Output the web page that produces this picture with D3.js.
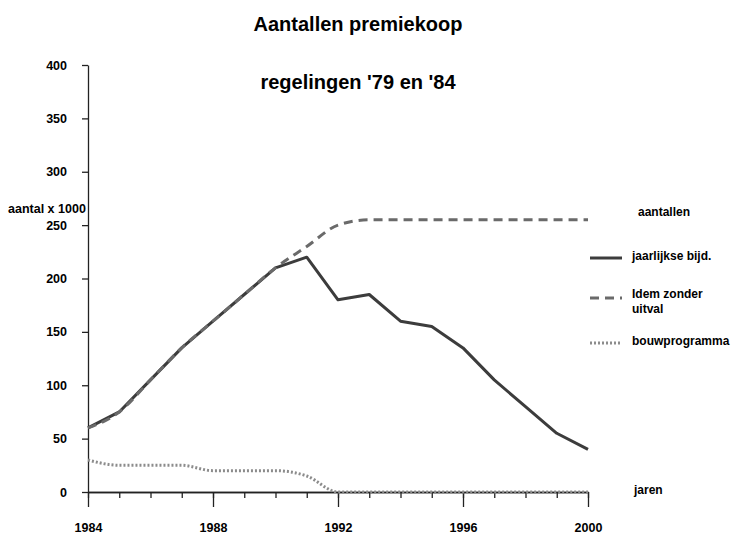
<!DOCTYPE html>
<html>
<head>
<meta charset="utf-8">
<script src="https://cdn.jsdelivr.net/npm/d3@7"></script>
<style>
    body { margin: 0; background: #fff; }
    text { font-family: "Liberation Sans", Arial, sans-serif; }
</style>
</head>
<body>
<div id="chart"></div>
<script>
// years and series (aantal x 1000)
var years = [1984, 1985, 1986, 1987, 1988, 1989, 1990, 1991, 1992, 1993, 1994, 1995, 1996, 1997, 1998, 1999, 2000];
var jaarlijks = [60, 75, 105, 135, 160, 185, 210, 220, 180, 185, 160, 155, 135, 105, 80, 55, 40];
var zonderUitval = [60, 75, 105, 135, 160, 185, 210, 230, 250, 255, 255, 255, 255, 255, 255, 255, 255];
var bouwprogramma = [30, 25, 25, 25, 20, 20, 20, 15, 0, 0, 0, 0, 0, 0, 0, 0, 0];
var yTicks = [0, 50, 100, 150, 200, 250, 300, 350, 400];
var xLabels = [1984, 1988, 1992, 1996, 2000];
var legendNames = ["jaarlijkse bijd.", ["Idem zonder", "uitval"], "bouwprogramma"];

var width = 735, height = 537;

var svg = d3.select("#chart")
    .append("svg")
    .attr("width", width)
    .attr("height", height);

var x = d3.scaleLinear().domain([1984, 2000]).range([88, 588]);
var y = d3.scaleLinear().domain([0, 400]).range([492, 65]);

// titles
svg.append("text")
    .attr("x", 358).attr("y", 31)
    .attr("text-anchor", "middle")
    .style("font-size", "20px").style("font-weight", "bold")
    .text("Aantallen premiekoop");
svg.append("text")
    .attr("x", 358).attr("y", 89)
    .attr("text-anchor", "middle")
    .style("font-size", "20px").style("font-weight", "bold")
    .text("regelingen '79 en '84");

// y axis
var yAxis = svg.append("g")
    .attr("transform", "translate(" + x(1984) + ",0)")
    .call(d3.axisLeft(y).tickValues(yTicks).tickSize(6).tickSizeOuter(0).tickPadding(15));
yAxis.selectAll("text")
    .style("font-size", "12.5px").style("font-weight", "bold")
    .style("font-family", "Liberation Sans, Arial, sans-serif");

// x axis: minor yearly ticks, then labelled major ticks
svg.append("g")
    .attr("transform", "translate(0," + y(0) + ")")
    .call(d3.axisBottom(x).tickValues(years).tickSize(6).tickSizeOuter(0).tickFormat(""));
var xAxis = svg.append("g")
    .attr("transform", "translate(0," + y(0) + ")")
    .call(d3.axisBottom(x).tickValues(xLabels).tickSize(15).tickSizeOuter(0)
        .tickFormat(d3.format("d")).tickPadding(16));
xAxis.selectAll("text")
    .style("font-size", "12.5px").style("font-weight", "bold")
    .style("font-family", "Liberation Sans, Arial, sans-serif");
svg.selectAll(".domain, .tick line").attr("stroke", "#222").attr("stroke-width", 1.3);

// axis titles
svg.append("text")
    .attr("x", 8).attr("y", 213)
    .style("font-size", "12.5px").style("font-weight", "bold")
    .text("aantal x 1000");
svg.append("text")
    .attr("x", 634).attr("y", 494)
    .style("font-size", "12px").style("font-weight", "bold")
    .text("jaren");

function series(values) {
    return values.map(function (v, i) { return {year: years[i], value: v}; });
}

var straight = d3.line()
    .x(function (d) { return x(d.year); })
    .y(function (d) { return y(d.value); });
var smooth = d3.line()
    .curve(d3.curveMonotoneX)
    .x(function (d) { return x(d.year); })
    .y(function (d) { return y(d.value); });

var styles = [
    {color: "#3c3c3c", dash: null},
    {color: "#6a6a6a", dash: "9,6"},
    {color: "#8c8c8c", dash: "2,2"}
];

// dotted building programme
svg.append("path")
    .datum(series(bouwprogramma))
    .attr("fill", "none")
    .attr("stroke", styles[2].color)
    .attr("stroke-width", 3)
    .attr("stroke-dasharray", styles[2].dash)
    .attr("d", smooth);

// solid yearly
svg.append("path")
    .datum(series(jaarlijks))
    .attr("fill", "none")
    .attr("stroke", styles[0].color)
    .attr("stroke-width", 3)
    .attr("stroke-linejoin", "round")
    .attr("d", straight);

// dashed, without drop-out (coincides with solid up to 1990)
svg.append("path")
    .datum(series(zonderUitval))
    .attr("fill", "none")
    .attr("stroke", styles[1].color)
    .attr("stroke-width", 3)
    .attr("stroke-dasharray", styles[1].dash)
    .attr("d", smooth);

// legend
svg.append("text")
    .attr("x", 638).attr("y", 216)
    .style("font-size", "12px").style("font-weight", "bold")
    .text("aantallen");

var legendY = [258, 298, 343];
legendNames.forEach(function (name, i) {
    svg.append("line")
        .attr("x1", 590).attr("x2", 622)
        .attr("y1", legendY[i]).attr("y2", legendY[i])
        .attr("stroke", styles[i].color)
        .attr("stroke-width", 3)
        .attr("stroke-dasharray", styles[i].dash);
    var t = svg.append("text")
        .attr("x", 632).attr("y", legendY[i] + 2)
        .style("font-size", "12px").style("font-weight", "bold");
    if (Array.isArray(name)) {
        t.attr("y", legendY[i]);
        name.forEach(function (part, j) {
            t.append("tspan").attr("x", 632).attr("dy", j === 0 ? 0 : 15).text(part);
        });
    } else {
        t.text(name);
    }
});
</script>
</body>
</html>
